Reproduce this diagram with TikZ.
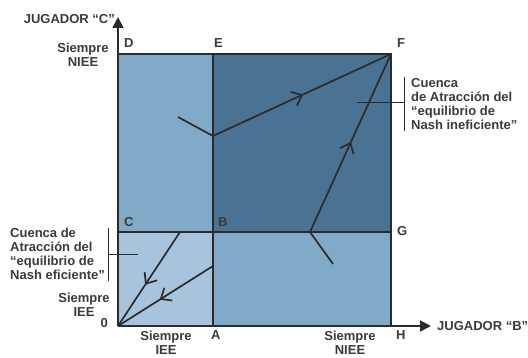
\documentclass[tikz,border=0pt]{standalone}
\usepackage{fontspec}
\setmainfont{Liberation Sans}
\usetikzlibrary{arrows.meta,decorations.markings}
\definecolor{lightb}{HTML}{80AAC7}
\definecolor{darkb}{HTML}{4A7293}
\definecolor{paleb}{HTML}{A8C4DC}
\definecolor{linec}{HTML}{2B2B2B}
\definecolor{txtc}{HTML}{3A3A3A}
\tikzset{
  lbl/.style={font=\fontsize{13}{14.3}\selectfont\bfseries, text=txtc, inner sep=0pt},
  grid line/.style={draw=linec, line width=1.8pt},
  traj/.style={draw=linec, line width=1.7pt},
  chev/.style={postaction={decorate}, decoration={markings,
     mark=at position #1 with {\draw[linec, line width=1.7pt, line join=miter] (-9pt,7.5pt) -- (0pt,0pt) -- (-9pt,-7.5pt);}}},
  axis/.style={draw=linec, line width=1.8pt, -{Triangle[length=11pt,width=11pt]}},
  brk/.style={draw=linec, line width=1pt}
}
\begin{document}
\begin{tikzpicture}[x=1pt,y=-1pt]
\useasboundingbox (0,0) rectangle (528,358);
% corner coordinates
\coordinate (O) at (118,326);
\coordinate (A) at (213,326);
\coordinate (H) at (391,326);
\coordinate (C) at (118,232);
\coordinate (B) at (213,232);
\coordinate (G) at (391,232);
\coordinate (D) at (118,54);
\coordinate (E) at (213,54);
\coordinate (F) at (391,54);
% fills
\fill[paleb] (O) rectangle (B);
\fill[lightb] (A) rectangle (G);
\fill[lightb] (C) rectangle (E);
\fill[darkb] (B) rectangle (F);
% grid lines
\draw[grid line] (D) -- (F) -- (H);
\draw[grid line] (E) -- (A);
\draw[grid line] (C) -- (G);
% axes
\coordinate (ytip) at (118,17);
\coordinate (xtip) at (431,326);
\draw[axis] (O) -- (ytip);
\draw[axis] (O) -- (xtip);
% trajectories
\coordinate (p1) at (213,136);
\coordinate (p1b) at (178,117);
\coordinate (p2) at (310,232);
\coordinate (p2b) at (333,264);
\coordinate (p3) at (180,232);
\coordinate (p4) at (213,266);
\draw[traj, chev=0.5] (p1) -- (F);
\draw[traj] (p1b) -- (p1);
\draw[traj, chev=0.5] (p2) -- (F);
\draw[traj] (p2b) -- (p2);
\draw[traj, chev=0.55] (p3) -- (O);
\draw[traj, chev=0.55] (p4) -- (O);
% brackets
\coordinate (rb1) at (404,77);
\coordinate (rb2) at (404,131);
\coordinate (rbm) at (404,103);
\coordinate (rbi) at (357,103);
\draw[brk] (rb1) -- (rb2);
\draw[brk] (rbm) -- (rbi);
\coordinate (lb1) at (108,228);
\coordinate (lb2) at (108,281);
\coordinate (lbm) at (108,255);
\coordinate (lbi) at (138,255);
\draw[brk] (lb1) -- (lb2);
\draw[brk] (lbm) -- (lbi);
% labels
\node[lbl, anchor=base east] (jc) at (115,24) {JUGADOR “C”};
\node[lbl, anchor=base west] (jb) at (437,331) {JUGADOR “B”};
\node[lbl, anchor=base west] (lD) at (124,48) {D};
\node[lbl, anchor=base west] (lE) at (214,48) {E};
\node[lbl, anchor=base west] (lF) at (397,48) {F};
\node[lbl, anchor=base west] (lC) at (124,227) {C};
\node[lbl, anchor=base west] (lB) at (218,227) {B};
\node[lbl, anchor=base west] (lG) at (397,236) {G};
\node[lbl, anchor=base west] (lA) at (211,340) {A};
\node[lbl, anchor=base west] (lH) at (396,340) {H};
\node[lbl, anchor=base east] (l0) at (108,327) {0};
\node[lbl, align=center, anchor=base] (s1) at (83,67) {Siempre\\NIEE};
\node[lbl, align=center, anchor=base] (s2) at (84,317) {Siempre\\IEE};
\node[lbl, align=center, anchor=base] (s3) at (166,355) {Siempre\\IEE};
\node[lbl, align=center, anchor=base] (s4) at (350,355) {Siempre\\NIEE};
\node[lbl, align=left, anchor=base west] (cr) at (411,130) {Cuenca\\de Atracción del\\“equilibrio de\\Nash ineficiente”};
\node[lbl, align=left, anchor=base west] (cl) at (10,280) {Cuenca de\\Atracción del\\“equilibrio de\\Nash eficiente”};
\end{tikzpicture}
\end{document}
